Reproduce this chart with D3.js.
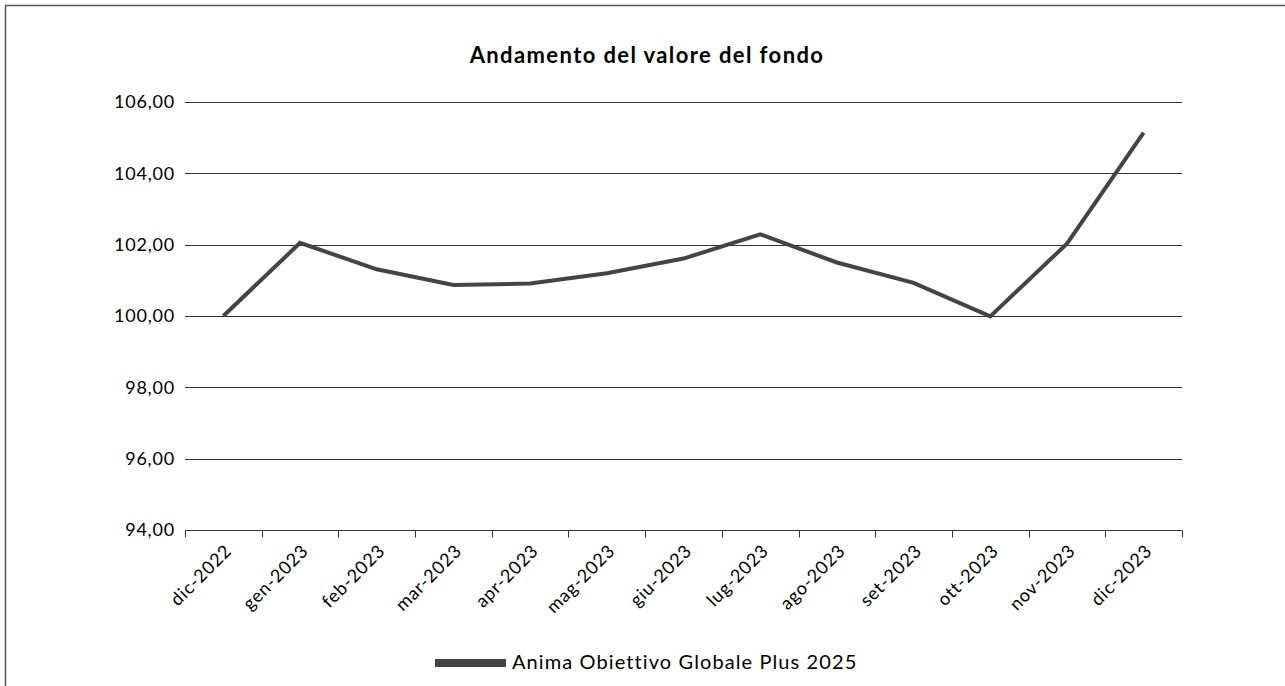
<!DOCTYPE html>
<html>
<head>
<meta charset="utf-8">
<script src="https://cdn.jsdelivr.net/npm/d3@7"></script>
<style>
  body { margin: 0; background: #fff; }
  svg { display: block; font-family: Lato, "Open Sans", sans-serif; }
</style>
</head>
<body>
<div id="chart"></div>
<script>
//  Chart data
var months = ["dic-2022", "gen-2023", "feb-2023", "mar-2023", "apr-2023", "mag-2023", "giu-2023",
              "lug-2023", "ago-2023", "set-2023", "ott-2023", "nov-2023", "dic-2023"];
var fundValues = [100.00, 102.05, 101.31, 100.87, 100.91, 101.20, 101.61,
                  102.29, 101.50, 100.93, 99.99, 102.03, 105.14];
var yTicks = [94, 96, 98, 100, 102, 104, 106];
var seriesName = "Anima Obiettivo Globale Plus 2025";
var chartTitle = "Andamento del valore del fondo";

// ---------------------------------------------------------------------------------- //

var width = 1285;
var height = 686;
var margin = {left: 185, right: 103, top: 102, bottom: 156};

var svg = d3.select("#chart")
  .append("svg")
  .attr("width", width)
  .attr("height", height);

//  Outer frame (only top and left edges are visible)
svg.append("rect")
  .attr("x", 5.5)
  .attr("y", 5.5)
  .attr("width", width + 20)
  .attr("height", height + 20)
  .style("fill", "none")
  .style("stroke", "#555")
  .style("stroke-width", 1.5);

var x = d3.scaleBand()
  .domain(months)
  .range([margin.left, width - margin.right]);

var y = d3.scaleLinear()
  .domain([94, 106])
  .range([height - margin.bottom, margin.top]);

//  Title
svg.append("text")
  .attr("x", 647)
  .attr("y", 63)
  .attr("text-anchor", "middle")
  .style("font-size", "22px")
  .style("font-weight", "bold")
  .style("letter-spacing", "1.4px")
  .style("fill", "#000")
  .text(chartTitle);

//  Horizontal grid
svg.append("g")
  .selectAll("line")
  .data(yTicks.slice(1))
  .enter()
  .append("line")
  .attr("x1", margin.left)
  .attr("x2", width - margin.right)
  .attr("y1", function(d) { return Math.round(y(d)) + 0.5; })
  .attr("y2", function(d) { return Math.round(y(d)) + 0.5; })
  .style("stroke", "#333")
  .style("stroke-width", 1);

//  Y labels
var yAxis = svg.append("g")
  .attr("transform", "translate(" + margin.left + ",0)")
  .call(d3.axisLeft(y)
    .tickValues(yTicks)
    .tickSize(0)
    .tickPadding(10)
    .tickFormat(function(d) { return d3.format(".2f")(d).replace(".", ","); }));
yAxis.select(".domain").remove();
yAxis.selectAll("text")
  .style("font-family", "Lato, sans-serif")
  .style("font-size", "18px")
  .style("letter-spacing", "0.8px")
  .style("fill", "#000");

//  X axis with ticks between the categories
var xAxisY = Math.round(y(94)) + 0.5;
var xAxis = svg.append("g");
xAxis.append("line")
  .attr("x1", margin.left)
  .attr("x2", width - margin.right)
  .attr("y1", xAxisY)
  .attr("y2", xAxisY)
  .style("stroke", "#333");

var tickPositions = months.map(function(m) { return x(m); }).concat([x(months[months.length - 1]) + x.bandwidth()]);
xAxis.selectAll(".tick")
  .data(tickPositions)
  .enter()
  .append("line")
  .attr("x1", function(d) { return Math.round(d) + 0.5; })
  .attr("x2", function(d) { return Math.round(d) + 0.5; })
  .attr("y1", xAxisY)
  .attr("y2", xAxisY + 7)
  .style("stroke", "#333");

xAxis.selectAll(".lbl")
  .data(months)
  .enter()
  .append("text")
  .attr("transform", function(d) {
    return "translate(" + (x(d) + x.bandwidth() / 2 + 5) + "," + (xAxisY + 17) + ") rotate(-45)";
  })
  .attr("text-anchor", "end")
  .attr("dy", "0.35em")
  .style("font-size", "18px")
  .style("letter-spacing", "0.8px")
  .style("fill", "#000")
  .text(function(d) { return d; });

//  Fund line
var line = d3.line()
  .x(function(d, i) { return x(months[i]) + x.bandwidth() / 2; })
  .y(function(d) { return y(d); });

svg.append("path")
  .datum(fundValues)
  .attr("d", line)
  .style("fill", "none")
  .style("stroke", "#444")
  .style("stroke-width", 4)
  .style("stroke-linejoin", "miter");

//  Legend
svg.append("line")
  .attr("x1", 435)
  .attr("x2", 506)
  .attr("y1", 663)
  .attr("y2", 663)
  .style("stroke", "#444")
  .style("stroke-width", 8);

svg.append("text")
  .attr("x", 512)
  .attr("y", 669)
  .style("font-size", "20px")
  .style("letter-spacing", "1.1px")
  .style("fill", "#000")
  .text(seriesName);
</script>
</body>
</html>
